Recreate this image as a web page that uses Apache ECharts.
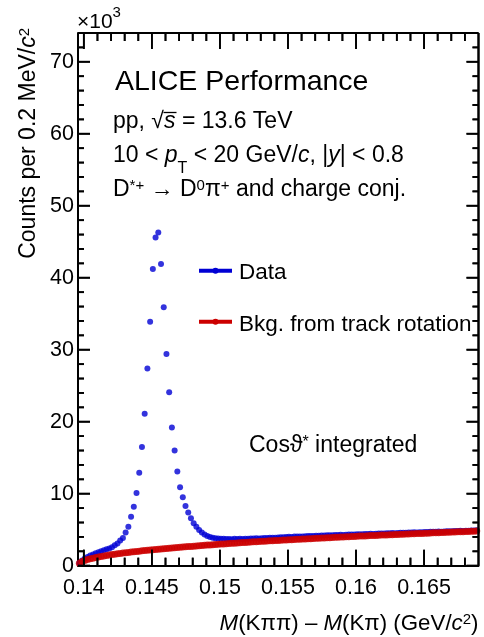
<!DOCTYPE html>
<html>
<head>
<meta charset="utf-8">
<script src="https://cdn.jsdelivr.net/npm/echarts@6/dist/echarts.min.js"></script>
<style>
  html, body { margin: 0; padding: 0; background: #ffffff; }
  #wrap { position: relative; width: 484px; height: 637px; }
  #chart { width: 484px; height: 637px; }
  #ticks { position: absolute; left: 0; top: 0; pointer-events: none; }
</style>
</head>
<body>
<div id="wrap">
  <div id="chart"></div>
  <canvas id="ticks" width="484" height="637"></canvas>
</div>
<script>
// Histogram binning of the mass difference (GeV/c^2)
const X_MIN = 0.13957;
const X_MAX = 0.169;
const BIN_WIDTH = 0.0002;
const Y_MAX = 74;

// Axis ticks
const xMajorTicks = [0.14, 0.145, 0.15, 0.155, 0.16, 0.165];
const xMinorTicks = [0.141, 0.142, 0.143, 0.144, 0.146, 0.147, 0.148, 0.149,
  0.151, 0.152, 0.153, 0.154, 0.156, 0.157, 0.158, 0.159,
  0.161, 0.162, 0.163, 0.164, 0.166, 0.167, 0.168];
const yMajorTicks = [0, 10, 20, 30, 40, 50, 60, 70];
const yMinorTicks = [2, 4, 6, 8, 12, 14, 16, 18, 22, 24, 26, 28, 32, 34, 36, 38,
  42, 44, 46, 48, 52, 54, 56, 58, 62, 64, 66, 68, 72];

// Counts per bin (x10^3), D*+ candidates
const dataCounts = [
  0.36, 0.72, 1.00, 1.20, 1.40, 1.57, 1.72, 1.86, 2.00, 2.13,
  2.27, 2.40, 2.56, 2.85, 3.10, 3.50, 3.85, 4.60, 5.40, 6.80,
  8.20, 10.1, 12.9, 16.5, 21.1, 27.4, 33.9, 41.2, 45.6, 46.3,
  41.9, 35.9, 29.4, 24.1, 19.2, 16.0, 13.1, 10.9, 9.50, 8.30,
  7.40, 6.60, 5.90, 5.40, 4.95, 4.60, 4.32, 4.12, 3.98, 3.90,
  3.83, 3.79, 3.76, 3.74, 3.71, 3.72, 3.69, 3.73, 3.71, 3.74,
  3.72, 3.76, 3.74, 3.78, 3.77, 3.80, 3.79, 3.83, 3.85, 3.84,
  3.88, 3.90, 3.89, 3.93, 3.96, 3.95, 3.99, 4.01, 4.00, 4.04,
  4.05, 4.07, 4.06, 4.10, 4.11, 4.13, 4.14, 4.17, 4.16, 4.19,
  4.21, 4.22, 4.24, 4.23, 4.26, 4.27, 4.29, 4.28, 4.31, 4.33,
  4.32, 4.35, 4.36, 4.38, 4.37, 4.40, 4.41, 4.43, 4.42, 4.45,
  4.46, 4.48, 4.47, 4.50, 4.51, 4.53, 4.52, 4.55, 4.56, 4.58,
  4.57, 4.60, 4.61, 4.63, 4.62, 4.65, 4.66, 4.68, 4.67, 4.70,
  4.71, 4.72, 4.74, 4.73, 4.76, 4.77, 4.79, 4.78, 4.81, 4.82,
  4.84, 4.83, 4.86, 4.87, 4.89, 4.88, 4.91
];

// Background from track rotation (x10^3)
const bkgCounts = [
  0.34, 0.58, 0.73, 0.85, 0.96, 1.05, 1.14, 1.22, 1.29, 1.36,
  1.42, 1.48, 1.54, 1.60, 1.65, 1.70, 1.75, 1.80, 1.85, 1.89,
  1.94, 1.98, 2.02, 2.06, 2.11, 2.15, 2.19, 2.22, 2.26, 2.29,
  2.33, 2.36, 2.40, 2.43, 2.46, 2.50, 2.53, 2.56, 2.59, 2.62,
  2.65, 2.68, 2.71, 2.74, 2.77, 2.80, 2.83, 2.86, 2.89, 2.92,
  2.95, 2.97, 3.00, 3.03, 3.05, 3.08, 3.11, 3.13, 3.16, 3.18,
  3.21, 3.23, 3.26, 3.28, 3.31, 3.33, 3.35, 3.38, 3.40, 3.42,
  3.45, 3.47, 3.49, 3.51, 3.54, 3.56, 3.58, 3.60, 3.62, 3.64,
  3.66, 3.68, 3.70, 3.72, 3.74, 3.76, 3.78, 3.80, 3.82, 3.84,
  3.86, 3.88, 3.90, 3.92, 3.94, 3.96, 3.98, 4.00, 4.01, 4.03,
  4.05, 4.07, 4.09, 4.11, 4.12, 4.14, 4.16, 4.18, 4.19, 4.21,
  4.23, 4.25, 4.26, 4.28, 4.30, 4.31, 4.33, 4.35, 4.36, 4.38,
  4.40, 4.41, 4.43, 4.44, 4.46, 4.48, 4.49, 4.51, 4.52, 4.54,
  4.56, 4.57, 4.59, 4.60, 4.62, 4.63, 4.65, 4.67, 4.68, 4.70,
  4.71, 4.73, 4.75, 4.76, 4.78, 4.80, 4.82
];

const FONT = '"Liberation Sans", Arial, Helvetica, sans-serif';
const BLUE = '#0000d4';
const RED = '#cc0000';
const INK = '#0d0d0d';

const toPoints = arr => arr.map((v, k) => [X_MIN + BIN_WIDTH * (k + 0.5), v]);
// [value, 1 = major | 0 = minor]
const tickData = (major, minor) => major.map(v => [v, 1]).concat(minor.map(v => [v, 0]));

// Inward tick marks on each side of the frame
function xTickRenderer(atTop) {
  return function (params, api) {
    const v = api.value(0);
    const len = api.value(1) === 1 ? 16 : 8;
    const p = api.coord([v, atTop ? Y_MAX : 0]);
    const dir = atTop ? 1 : -1;
    return {
      type: 'line',
      shape: { x1: p[0], y1: p[1], x2: p[0], y2: p[1] + dir * len },
      style: { stroke: INK, lineWidth: 1.8 }
    };
  };
}
function yTickRenderer(atRight) {
  return function (params, api) {
    const v = api.value(0);
    const len = api.value(1) === 1 ? 12 : 6;
    const p = api.coord([atRight ? X_MAX : X_MIN, v]);
    const dir = atRight ? -1 : 1;
    return {
      type: 'line',
      shape: { x1: p[0], y1: p[1], x2: p[0] + dir * len, y2: p[1] },
      style: { stroke: INK, lineWidth: 1.8 }
    };
  };
}
// Top and right edges of the frame
function frameRenderer(params, api) {
  const top = api.value(0) === 0;
  const a = api.coord(top ? [X_MIN, Y_MAX] : [X_MAX, 0]);
  const b = api.coord([X_MAX, Y_MAX]);
  return {
    type: 'line',
    shape: { x1: a[0], y1: a[1], x2: b[0], y2: b[1] },
    style: { stroke: INK, lineWidth: 2 }
  };
}

const txt = (x, y, text, size, extra) => ({
  type: 'text', x: x, y: y,
  style: Object.assign({
    text: text, fill: '#000', fontFamily: FONT, fontSize: size,
    align: 'left', verticalAlign: 'middle'
  }, extra || {})
});

// Titles, header text and legend
function annotationRenderer() {
  return {
    type: 'group',
    children: [
      txt(77, 22, '×10{sup|3}', 21, { lineHeight: 34, rich: { sup: { fontSize: 15, lineHeight: 15, verticalAlign: 'top', fontFamily: FONT } } }),
      {
        type: 'text', x: 29, y: 28, rotation: Math.PI / 2,
        style: {
          text: 'Counts per 0.2 MeV/{it|c}{sup|2}', fill: '#000', fontFamily: FONT, fontSize: 23,
          align: 'right', verticalAlign: 'middle', lineHeight: 24,
          rich: {
            it: { fontStyle: 'italic', fontSize: 23, lineHeight: 24, fontFamily: FONT },
            sup: { fontSize: 15, lineHeight: 15, verticalAlign: 'top', fontFamily: FONT }
          }
        }
      },
      txt(478.5, 623.5, '{it|M}(Kππ) – {it|M}(Kπ) (GeV/{it|c}{sup|2})', 22.3, {
        align: 'right', lineHeight: 23,
        rich: {
          it: { fontStyle: 'italic', fontSize: 22.3, lineHeight: 23, fontFamily: FONT },
          sup: { fontSize: 15, lineHeight: 15, verticalAlign: 'top', fontFamily: FONT }
        }
      }),
      txt(115, 82.5, 'ALICE Performance', 28.5),
      txt(113, 121.5, 'pp, √{it|s} = 13.6 TeV', 23, {
        rich: { it: { fontStyle: 'italic', fontSize: 23, fontFamily: FONT } }
      }),
      { type: 'line', shape: { x1: 163.5, y1: 112.5, x2: 176.5, y2: 112.5 }, style: { stroke: '#000', lineWidth: 1.3 } },
      txt(113, 156, '10 < {it|p}{sub|T} < 20 GeV/{it|c}, |{it|y}| < 0.8', 23, {
        lineHeight: 42,
        rich: {
          it: { fontStyle: 'italic', fontSize: 23, lineHeight: 42, fontFamily: FONT },
          sub: { fontSize: 16, lineHeight: 16, verticalAlign: 'bottom', fontFamily: FONT }
        }
      }),
      txt(113, 189.5, 'D{sup|*+} → D{sup|0}π{sup|+} and charge conj.', 23, {
        lineHeight: 23,
        rich: { sup: { fontSize: 15, lineHeight: 15, verticalAlign: 'top', fontFamily: FONT } }
      }),
      { type: 'line', shape: { x1: 199, y1: 270.7, x2: 232, y2: 270.7 }, style: { stroke: BLUE, lineWidth: 4 } },
      { type: 'circle', shape: { cx: 215.5, cy: 270.7, r: 3 }, style: { fill: BLUE } },
      txt(239, 273, 'Data', 22.5),
      { type: 'line', shape: { x1: 199, y1: 321.7, x2: 232, y2: 321.7 }, style: { stroke: RED, lineWidth: 4 } },
      { type: 'circle', shape: { cx: 215.5, cy: 321.7, r: 3 }, style: { fill: RED } },
      txt(239, 325, 'Bkg. from track rotation', 22.5),
      txt(249, 446, 'Cosϑ{sup|*} integrated', 23, {
        lineHeight: 23,
        rich: { sup: { fontSize: 16, lineHeight: 16, verticalAlign: 'top', fontFamily: FONT } }
      })
    ]
  };
}

const overlay = (data, renderItem, z) => ({
  type: 'custom', clip: false, z: z, silent: true, data: data, renderItem: renderItem
});

const chart = echarts.init(document.getElementById('chart'), null, { renderer: 'canvas' });
chart.setOption({
  animation: false,
  backgroundColor: '#ffffff',
  grid: { left: 78, right: 5.5, top: 33, bottom: 71.3, containLabel: false, outerBoundsMode: 'none' },
  xAxis: {
    type: 'value', min: X_MIN, max: X_MAX, position: 'bottom',
    axisLine: { show: true, onZero: false, lineStyle: { color: '#000', width: 2 } },
    axisTick: { show: false },
    axisLabel: {
      show: true, customValues: xMajorTicks, margin: 11,
      fontFamily: FONT, fontSize: 21.5, color: '#000',
      formatter: v => String(+(+v).toFixed(3))
    },
    splitLine: { show: false }
  },
  yAxis: {
    type: 'value', min: 0, max: Y_MAX, interval: 10, position: 'left',
    axisLine: { show: true, onZero: false, lineStyle: { color: '#000', width: 2 } },
    axisTick: { show: false },
    axisLabel: {
      show: true, margin: 4, showMaxLabel: false,
      fontFamily: FONT, fontSize: 21.5, color: '#000',
      formatter: v => (yMajorTicks.indexOf(v) >= 0 ? String(v) : '')
    },
    splitLine: { show: false }
  },
  series: [
    {
      name: 'Data', type: 'scatter',
      data: toPoints(dataCounts), symbol: 'circle', symbolSize: 6,
      itemStyle: { color: BLUE }, z: 2
    },
    {
      name: 'Bkg. from track rotation', type: 'scatter',
      data: toPoints(bkgCounts), symbol: 'circle', symbolSize: 7,
      itemStyle: { color: RED }, z: 3
    },
    overlay([[0, 0]], annotationRenderer, 100),
    overlay([[0, 0], [1, 0]], frameRenderer, 200),
    overlay(tickData(xMajorTicks, xMinorTicks), xTickRenderer(false), 200),
    overlay(tickData(xMajorTicks, xMinorTicks), xTickRenderer(true), 200),
    overlay(tickData(yMajorTicks, yMinorTicks), yTickRenderer(false), 200),
    overlay(tickData(yMajorTicks, yMinorTicks), yTickRenderer(true), 200)
  ]
});

// The chart flushes synchronously; if the tick marks did not reach the canvas,
// draw them on a transparent layer, still placed through the chart's axis scales.
(function ensureTicks() {
  const toPx = (x, y) => chart.convertToPixel({ xAxisIndex: 0, yAxisIndex: 0 }, [x, y]);
  const base = chart.getDom().querySelector('canvas');
  let visible = true;
  try {
    const p = toPx(X_MIN, 30);
    const d = base.getContext('2d').getImageData(Math.round(p[0]) + 5, Math.round(p[1]), 1, 1).data;
    visible = d[0] + d[1] + d[2] < 300;
  } catch (e) { visible = true; }
  if (visible) return;
  const ctx = document.getElementById('ticks').getContext('2d');
  ctx.strokeStyle = '#000';
  ctx.lineWidth = 1.8;
  const seg = (x1, y1, x2, y2) => { ctx.beginPath(); ctx.moveTo(x1, y1); ctx.lineTo(x2, y2); ctx.stroke(); };
  [[xMajorTicks, 16], [xMinorTicks, 8]].forEach(([vals, len]) => vals.forEach(v => {
    const b = toPx(v, 0), t = toPx(v, Y_MAX);
    seg(b[0], b[1], b[0], b[1] - len);
    seg(t[0], t[1], t[0], t[1] + len);
  }));
  [[yMajorTicks, 12], [yMinorTicks, 6]].forEach(([vals, len]) => vals.forEach(v => {
    const l = toPx(X_MIN, v), r = toPx(X_MAX, v);
    seg(l[0], l[1], l[0] + len, l[1]);
    seg(r[0], r[1], r[0] - len, r[1]);
  }));
  ctx.lineWidth = 2;
  const c0 = toPx(X_MIN, Y_MAX), c1 = toPx(X_MAX, Y_MAX), c2 = toPx(X_MAX, 0);
  seg(c0[0], c0[1], c1[0], c1[1]);
  seg(c1[0], c1[1], c2[0], c2[1]);
})();
</script>
</body>
</html>
